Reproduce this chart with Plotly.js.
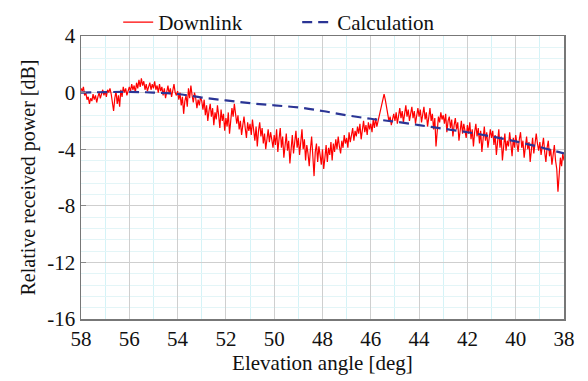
<!DOCTYPE html>
<html>
<head>
<meta charset="utf-8">
<script src="https://cdn.plot.ly/plotly-3.0.1.min.js"></script>
<style>
html,body{margin:0;padding:0;background:#fff;}
#chart{width:588px;height:381px;}
#chart svg text{font-family:"Liberation Serif","Times New Roman",serif !important;}
</style>
</head>
<body>
<div id="chart"></div>
<script>
// Downlink: measured samples, starting at 58 deg, step -0.05 deg
const downlinkStart = 58;
const downlinkStep = -0.05;
const downlinkDb = [
 0.3, 0.1, 0.4, -0.2, 0.0, -0.5, -0.3, -0.8, -0.4, -0.6, -0.1, -0.5, -0.2, -0.7, -0.3, 0.0, -0.4, -0.1, 0.2, -0.2,
 0.1, -0.3, 0.2, 0.0, 0.3, -0.1, -0.6, -1.3, -0.4, 0.1, -0.8, -0.2, -1.0, 0.2, -0.3, 0.4, 0.0, 0.3, -0.2, 0.2,
 0.4, 0.1, 0.6, 0.2, 0.5, 0.0, 0.7, 0.3, 0.9, 0.4, 1.0, 0.5, 0.8, 0.2, 0.6, 0.1, 0.5, 0.7, 0.2, 0.6,
 0.3, 0.8, 0.2, 0.5, 0.0, 0.6, 0.1, 0.4, -0.2, 0.3, -0.4, 0.1, 0.5, -0.1, 0.3, -0.3, 0.2, 0.6, 0.0, -0.2,
 0.1, -0.5, 0.0, -0.9, -0.3, -1.5, -0.6, -0.2, -1.0, 0.3, -0.4, 0.5, -0.2, -0.7, 0.0, -0.4, -1.1, -0.5, -0.9, -0.3,
 -0.6, -1.2, -0.5, -1.6, -0.9, -2.0, -1.3, -0.8, -1.7, -1.1, -2.3, -1.4, -1.9, -0.9, -1.6, -2.5, -1.2, -2.0, -1.5, -2.7,
 -1.8, -2.4, -1.4, -2.9, -2.0, -1.1, -1.7, -0.8, -1.5, -2.2, -1.6, -2.6, -2.0, -3.0, -2.3, -1.7, -2.5, -3.2, -2.1, -2.7,
 -2.2, -3.0, -1.9, -2.6, -3.4, -2.4, -3.8, -2.7, -2.1, -3.1, -2.5, -3.6, -2.9, -4.0, -3.2, -2.6, -3.5, -2.8, -3.3, -3.9,
 -3.0, -3.7, -2.6, -4.2, -3.3, -2.5, -3.9, -3.1, -4.6, -3.5, -2.9, -4.1, -3.4, -5.0, -3.8, -3.0, -4.3, -3.6, -2.7, -3.9,
 -3.2, -4.4, -3.5, -2.6, -4.0, -3.3, -4.8, -3.7, -4.3, -5.2, -4.0, -3.1, -4.5, -5.9, -4.2, -3.6, -4.9, -3.8, -4.4, -5.1,
 -4.0, -5.4, -4.6, -3.7, -4.9, -3.9, -4.4, -3.5, -4.8, -3.6, -4.2, -3.3, -4.0, -3.1, -3.8, -4.3, -3.4, -3.9, -3.0, -3.6,
 -3.2, -3.9, -2.8, -3.5, -3.0, -2.5, -3.4, -2.7, -3.1, -2.4, -2.9, -2.2, -3.3, -2.6, -2.0, -2.8, -2.3, -3.0, -2.1, -2.6,
 -2.2, -2.8, -1.9, -2.5, -1.8, -2.4, -2.0, -1.7, -1.4, -0.9, -0.4, -0.1, -0.5, -1.1, -1.6, -2.0, -1.7, -2.3, -1.9, -1.5,
 -2.0, -1.4, -2.2, -1.6, -1.1, -1.8, -1.3, -2.1, -1.5, -0.9, -1.7, -1.2, -2.0, -1.4, -1.0, -1.8, -1.3, -2.2, -1.6, -1.1,
 -1.7, -1.2, -2.1, -1.5, -1.0, -1.9, -1.4, -2.4, -1.6, -1.1, -2.0, -1.5, -2.6, -1.8, -3.8, -2.3, -1.7, -2.1, -1.4, -1.9,
 -1.6, -2.2, -1.5, -2.8, -2.0, -1.7, -2.5, -1.9, -3.1, -2.3, -1.8, -2.6, -2.1, -3.4, -2.4, -2.0, -2.9, -2.2, -2.7, -3.2,
 -2.3, -2.9, -2.1, -3.3, -2.6, -3.8, -2.8, -2.2, -3.1, -2.5, -3.6, -2.7, -4.2, -3.0, -2.4, -3.4, -2.8, -3.9, -3.1, -2.6,
 -3.2, -2.7, -3.7, -3.0, -4.4, -3.3, -2.6, -3.9, -3.1, -4.8, -3.5, -2.9, -4.1, -3.4, -3.8, -2.8, -3.6, -4.5, -3.2, -3.9,
 -3.0, -3.7, -4.2, -3.3, -2.8, -3.9, -3.4, -4.6, -3.6, -3.1, -4.0, -3.5, -4.9, -3.8, -3.2, -4.3, -3.7, -2.9, -3.6, -4.1,
 -3.5, -4.4, -3.8, -3.2, -4.2, -4.9, -3.9, -3.4, -4.5, -4.0, -5.1, -4.3, -3.7, -4.8, -5.4, -7.0, -5.6, -4.6, -5.2, -4.3,
 -4.8
];

// Calculation curve
const calcDeg = [58, 56, 55, 54, 53, 52, 51, 50, 49, 48, 47, 46, 45, 44, 43, 42, 41, 40, 39, 38];
const calcDb  = [0, 0.05, 0, -0.1, -0.35, -0.55, -0.75, -0.9, -1.05, -1.3, -1.6, -1.85, -2.05, -2.3, -2.55, -2.8, -3.1, -3.45, -3.85, -4.3];

const xTicks = [58, 56, 54, 52, 50, 48, 46, 44, 42, 40, 38];
const yTicks = [4, 0, -4, -8, -12, -16];

const font = 'Liberation Serif';

const traces = [
  {
    type: 'scatter', mode: 'lines', name: 'Downlink',
    x0: downlinkStart, dx: downlinkStep, y: downlinkDb,
    line: {color: '#ff0000', width: 1.2}
  },
  {
    type: 'scatter', mode: 'lines', name: 'Calculation',
    x: calcDeg, y: calcDb,
    line: {color: '#2b3595', width: 2.2, dash: '10px,6px', shape: 'spline'}
  }
];

const layout = {
  width: 588, height: 381,
  margin: {l: 81, r: 24, t: 36, b: 62, autoexpand: false},
  paper_bgcolor: '#ffffff', plot_bgcolor: '#ffffff',
  font: {family: font, size: 20, color: '#111'},
  showlegend: true,
  legend: {orientation: 'h', x: 0.077, xanchor: 'left', yref: 'container', y: 0.995, yanchor: 'top',
           entrywidth: 134, entrywidthmode: 'pixels',
           font: {family: font, size: 21, color: '#111'}, bgcolor: 'rgba(0,0,0,0)', traceorder: 'normal', itemwidth: 30},
  xaxis: {
    range: [58, 38], tickvals: xTicks, ticktext: xTicks.map(String),
    showgrid: true, gridcolor: '#cfcfcf', gridwidth: 1,
    minor: {dtick: 1, showgrid: true, gridcolor: '#d5f3f7', gridwidth: 1},
    showline: true, linecolor: '#777', linewidth: 1.5, mirror: true,
    ticks: '', zeroline: false,
    tickfont: {family: font, size: 21, color: '#111'},
    title: {text: 'Elevation angle [deg]', font: {family: font, size: 21, color: '#111'}, standoff: 2}
  },
  yaxis: {
    range: [-16, 4], tickvals: yTicks, ticktext: yTicks.map(String),
    showgrid: true, gridcolor: '#cfcfcf', gridwidth: 1,
    minor: {dtick: 0.8, showgrid: true, gridcolor: '#e3f5f7', gridwidth: 1},
    showline: true, linecolor: '#777', linewidth: 1.5, mirror: true,
    ticks: 'inside', ticklen: 5, tickcolor: '#888', zeroline: false,
    tickfont: {family: font, size: 21, color: '#111'},
    title: {text: 'Relative received power [dB]', font: {family: font, size: 20, color: '#111'}, standoff: 6}
  }
};

Plotly.newPlot('chart', traces, layout, {staticPlot: true, displayModeBar: false});
</script>
</body>
</html>
